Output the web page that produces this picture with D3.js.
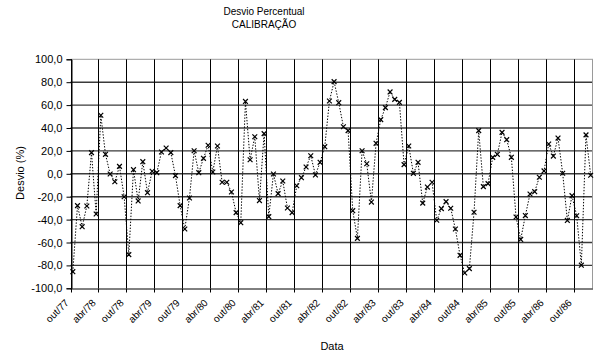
<!DOCTYPE html>
<html>
<head>
<meta charset="utf-8">
<script src="https://cdn.jsdelivr.net/npm/d3@7"></script>
<style>
  html, body { margin: 0; padding: 0; background: #fff; }
  svg { display: block; font-family: "Liberation Sans", Arial, sans-serif; }
</style>
</head>
<body>
<svg id="chart" width="594" height="355"></svg>
<script>
// Monthly categories starting at out/77
const monthNames = ["jan","fev","mar","abr","mai","jun","jul","ago","set","out","nov","dez"];
const startMonth = 9;   // outubro
const startYear = 77;

// Percentage deviation, one value per month
const desvio = [
  -85.5, -27.8, -46.2, -28.1, 18.5, -35.1, 51.1, 17.0, -0.2, -6.9, 6.5, -20.0,
  -70.6, 3.6, -23.7, 10.6, -16.5, 2.2, 1.0, 19.0, 22.5, 18.5, -1.6, -27.8,
  -48.2, -21.1, 20.1, 1.0, 13.5, 24.9, 1.6, 24.3, -7.4, -7.4, -15.9, -33.9,
  -42.7, 63.2, 12.3, 32.4, -23.4, 35.1, -37.4, -0.2, -17.3, -6.3, -29.9, -33.9,
  -10.4, -3.4, 5.9, 15.8, -1.0, 10.0, 23.7, 63.6, 80.5, 62.1, 41.1, 37.7,
  -32.2, -56.4, 20.1, 8.8, -24.7, 26.6, 47.3, 57.8, 71.5, 65.0, 62.4, 8.0,
  24.3, 0.4, 10.0, -25.6, -11.6, -7.4, -40.6, -30.4, -24.3, -30.1, -48.2, -71.2,
  -86.6, -82.8, -33.6, 37.7, -11.2, -8.6, 14.4, 17.0, 36.2, 29.8, 14.4, -37.7,
  -57.3, -36.5, -17.6, -15.6, -3.0, 2.5, 26.0, 15.5, 31.2, 0.5, -40.7, -19.1,
  -36.6, -79.8, 34.0, -1.3
];

const tickLabels = ["out/77","abr/78","out/78","abr/79","out/79","abr/80","out/80",
  "abr/81","out/81","abr/82","out/82","abr/83","out/83","abr/84","out/84",
  "abr/85","out/85","abr/86","out/86"];

const yTicks = [-100, -80, -60, -40, -20, 0, 20, 40, 60, 80, 100];

const categories = desvio.map((_, i) => {
  const m = (startMonth + i) % 12;
  const yr = startYear + Math.floor((startMonth + i) / 12);
  return monthNames[m] + "/" + String(yr).padStart(2, "0");
});
const data = categories.map((c, i) => ({ cat: c, value: desvio[i] }));

const svg = d3.select("#chart");
const plotLeft = 70.5, plotRight = 593, plotTop = 59.3, plotBottom = 288.3;

const x = d3.scaleBand().domain(categories).range([plotLeft, plotRight]).paddingInner(0).paddingOuter(0);
const y = d3.scaleLinear().domain([-100, 100]).range([plotBottom, plotTop]);

const fmt = v => d3.format(".1f")(v).replace(".", ",").replace("−", "-");

// Title
const title = svg.append("text").attr("text-anchor", "middle")
  .attr("font-size", 10).attr("fill", "#000");
title.append("tspan").attr("x", 264).attr("y", 15).text("Desvio Percentual");
title.append("tspan").attr("x", 264).attr("y", 28).text("CALIBRAÇÃO");

// Horizontal gridlines
svg.append("g").selectAll("line").data(yTicks.filter(d => d !== -100)).join("line")
  .attr("x1", plotLeft).attr("x2", plotRight)
  .attr("y1", d => y(d)).attr("y2", d => y(d))
  .attr("stroke", d => d === 100 ? "#9a9a9a" : "#3a3a3a")
  .attr("stroke-width", d => d === 100 ? 1 : 1.4);

// Vertical gridlines at each labelled tick
svg.append("g").selectAll("line").data(tickLabels).join("line")
  .attr("x1", d => Math.round(x(d)) + 0.5).attr("x2", d => Math.round(x(d)) + 0.5)
  .attr("y1", plotTop).attr("y2", plotBottom)
  .attr("stroke", "#000").attr("stroke-width", 1);

// Right border of the plot area
svg.append("line").attr("x1", plotRight - 0.5).attr("x2", plotRight - 0.5)
  .attr("y1", plotTop).attr("y2", plotBottom).attr("stroke", "#9a9a9a");

// Y axis
const yAxis = d3.axisLeft(y).tickValues(yTicks).tickSize(5).tickPadding(4).tickFormat(fmt);
const gy = svg.append("g").attr("transform", `translate(${Math.round(plotLeft) + 0.5},0)`).call(yAxis);
gy.select(".domain").attr("stroke", "#000");
gy.selectAll("text").attr("font-size", 11).attr("font-family", "Liberation Sans, Arial, sans-serif").attr("fill", "#000");

// X axis: ticks every six months, labels rotated
const xAxis = d3.axisBottom(x).tickValues(tickLabels).tickSize(4).tickSizeOuter(0);
const gx = svg.append("g").attr("transform", `translate(0,${Math.round(plotBottom) + 0.5})`).call(xAxis);
gx.selectAll(".tick").attr("transform", d => `translate(${Math.round(x(d)) + 0.5},0)`);
gx.select(".domain").attr("d", `M${plotLeft},0.5H${plotRight}`).attr("stroke", "#000");
gx.selectAll("text")
  .attr("font-size", 10).attr("font-family", "Liberation Sans, Arial, sans-serif").attr("fill", "#000")
  .attr("text-anchor", "end").attr("dy", null).attr("y", 0)
  .attr("transform", "translate(-2,15) rotate(-45)");

// Axis titles
svg.append("text").attr("x", 332).attr("y", 350).attr("text-anchor", "middle")
  .attr("font-size", 11).text("Data");
svg.append("text").attr("transform", "translate(24,173) rotate(-90)").attr("text-anchor", "middle")
  .attr("font-size", 11).text("Desvio (%)");

// Dotted series line
const cx = d => x(d.cat) + x.bandwidth() / 2;
const line = d3.line().x(cx).y(d => y(d.value));
svg.append("path").datum(data).attr("d", line)
  .attr("fill", "none").attr("stroke", "#000").attr("stroke-width", 1)
  .attr("stroke-dasharray", "1.4,1.6");

// X markers
const s = 2.4;
svg.append("g").selectAll("path").data(data).join("path")
  .attr("d", d => {
    const px = cx(d), py = y(d.value);
    return `M${px - s},${py - s}L${px + s},${py + s}M${px - s},${py + s}L${px + s},${py - s}`;
  })
  .attr("stroke", "#000").attr("stroke-width", 1.2).attr("fill", "none");
</script>
</body>
</html>
